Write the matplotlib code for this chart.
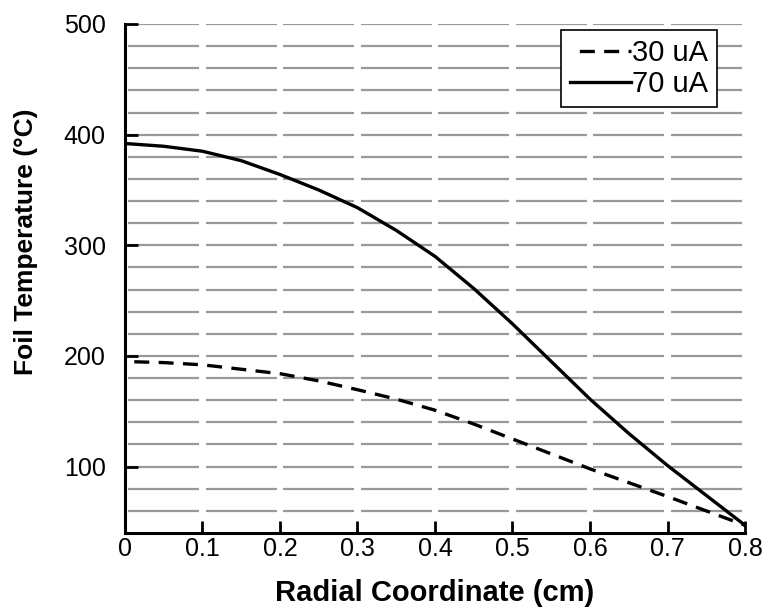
import matplotlib
matplotlib.use("Agg")
from matplotlib import pyplot as plt
import numpy as np

plt.rcParams['font.family'] = ['Liberation Sans', 'DejaVu Sans']

# Coordenada radial (cm)
raio = [0, 0.05, 0.1, 0.15, 0.2, 0.25, 0.3, 0.35, 0.4, 0.45, 0.5,
        0.55, 0.6, 0.65, 0.7, 0.75, 0.8]
# Temperatura da folha (C)
temp_30 = [195, 194, 192, 188, 184, 177.5, 169.5, 161, 151, 138.5, 125,
           111.5, 98, 85.5, 73, 60, 47]
temp_70 = [392, 389.5, 385, 376.5, 364, 350, 334, 313.5, 290, 261, 229,
           195, 161, 130, 101, 74, 47]

x_ticks = [0, 0.1, 0.2, 0.3, 0.4, 0.5, 0.6, 0.7, 0.8]
x_labels = ['0', '0.1', '0.2', '0.3', '0.4', '0.5', '0.6', '0.7', '0.8']
y_ticks = [100, 200, 300, 400, 500]
y_grid = list(range(60, 501, 20))

fig = plt.figure(figsize=(7.69, 6.15), dpi=100)
ax = fig.add_axes([0.1625, 0.1333, 0.8063, 0.8277])

# grade horizontal com pequenos cortes nos ticks
gap = 0.004
for yv in y_grid:
    for i in range(len(x_ticks) - 1):
        ax.plot([x_ticks[i] + gap, x_ticks[i + 1] - gap], [yv, yv],
                color='#999999', lw=1.6, zorder=1, solid_capstyle='butt')

xs = np.array(raio)
ax.plot(xs, temp_30, color='black', lw=2.4, ls=(4.5, (4.5, 2.8)), label='30 uA', zorder=3)
ax.plot(xs, temp_70, color='black', lw=2.4, label='70 uA', zorder=3)

ax.set_xlim(0, 0.8)
ax.set_ylim(40, 500)
ax.set_xticks(x_ticks)
ax.set_xticklabels(x_labels)
ax.set_yticks(y_ticks)
ax.tick_params(direction='in', length=9, width=2, labelsize=18)
ax.tick_params(axis='x', pad=3)
ax.tick_params(axis='y', pad=14)

ax.spines['top'].set_visible(False)
ax.spines['right'].set_visible(False)
ax.spines['left'].set_linewidth(2.2)
ax.spines['bottom'].set_linewidth(2.2)

ax.set_xlabel("Radial Coordinate (cm)", fontsize=21, fontweight='bold', labelpad=13)
ax.set_ylabel("Foil Temperature (°C)", fontsize=19, fontweight='bold')
ax.yaxis.set_label_coords(-0.141, 0.572)

leg = ax.legend(loc='upper right', bbox_to_anchor=(0.955, 0.988), borderaxespad=0,
                fontsize=21, handlelength=2.1, handletextpad=0.05, labelspacing=0.12,
                fancybox=False, framealpha=1, edgecolor='black', borderpad=0.3)
leg.get_frame().set_linewidth(1.2)

plt.savefig("out.png", dpi=100)
